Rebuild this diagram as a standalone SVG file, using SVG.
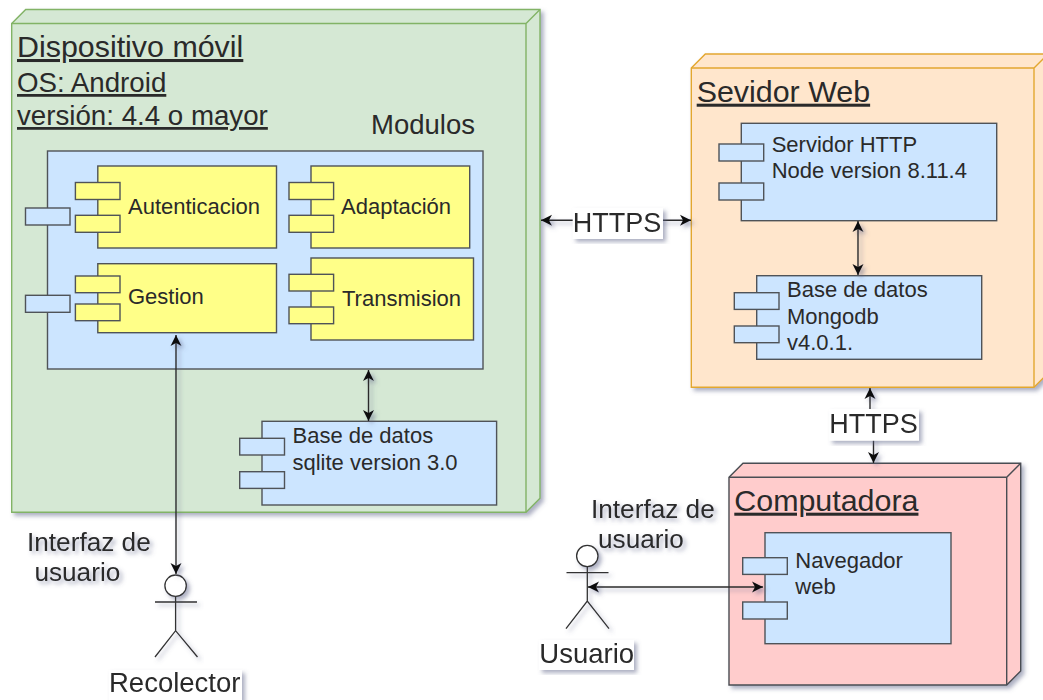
<svg xmlns="http://www.w3.org/2000/svg" width="1043" height="700" viewBox="0 0 1043 700">
<style>
text{font-family:"Liberation Sans",Arial,sans-serif;fill:#2a2a2a;font-size:22px}
.t{font-size:27.5px}
.title{font-size:30.4px;text-decoration:underline}
.u{font-size:27.7px;text-decoration:underline}
.l{font-size:26.2px}
.s{filter:url(#sh)}
.n path,.n rect,.n line,.n circle{stroke-width:1.4}
.green *{fill:#d5e8d4;stroke:#82b366}
.orange *{fill:#ffe6cc;stroke:#e3a72f}
.pink *{fill:#ffcccc;stroke:#4a4d52}
.c rect{fill:#cce5ff;stroke:#4f5358;stroke-width:1.4}
.y rect{fill:#ffff88;stroke:#4f5358;stroke-width:1.4}
.actor *{fill:none;stroke:#333;stroke-width:1.3}
.actor circle{fill:#fff}
.bg{fill:#fff}
#connectors path{fill:none;stroke:#2a2a2a;stroke-width:1.4;marker-start:url(#a);marker-end:url(#a)}
</style>
<defs>
<filter id="sh" x="-10%" y="-10%" width="125%" height="125%"><feDropShadow dx="3" dy="3" stdDeviation="2" flood-color="#5a5f85" flood-opacity="0.5"/></filter>
<marker id="a" markerUnits="userSpaceOnUse" markerWidth="15" markerHeight="14" refX="12" refY="7" orient="auto-start-reverse"><path d="M1 1.5L12 7L1 12.5L4 7Z" fill="#111"/></marker>
</defs>

<g id="node-dispositivo" class="n green s">
<path d="M11.7 23.5L25.7 9.5H540V498.3L526 512.3H11.7Z"/>
<path d="M11.7 23.5H526L540 9.5M526 23.5V512.3" style="fill:none"/>
</g>
<g id="node-servidor" class="n orange s">
<path d="M691.3 68L705.3 54H1048V373.3L1034 387.3H691.3Z"/>
<path d="M691.3 68H1034L1048 54M1034 68V387.3" style="fill:none"/>
</g>
<g id="node-computadora" class="n pink s">
<path d="M729 477.3L743 463.3H1020.7V671L1006.7 685H729Z"/>
<path d="M729 477.3H1006.7L1020.7 463.3M1006.7 477.3V685" style="fill:none"/>
</g>

<g id="node-modulos" class="c">
<rect x="47.5" y="151" width="435.5" height="218"/>
<rect x="25.5" y="208" width="44.5" height="17"/>
<rect x="25.5" y="295.3" width="44.5" height="17"/>
</g>
<g id="node-autenticacion" class="y">
<rect x="97.8" y="166" width="178.7" height="82"/>
<rect x="75.4" y="182.5" width="44.6" height="17"/>
<rect x="75.4" y="215.3" width="44.6" height="17"/>
<text x="128" y="214">Autenticacion</text>
</g>
<g id="node-adaptacion" class="y">
<rect x="311" y="166" width="158.7" height="82"/>
<rect x="289" y="182.5" width="44.6" height="17"/>
<rect x="289" y="215.3" width="44.6" height="17"/>
<text x="341" y="214">Adaptación</text>
</g>
<g id="node-gestion" class="y">
<rect x="97.8" y="263.7" width="178.7" height="69"/>
<rect x="75.4" y="276" width="44.6" height="16.7"/>
<rect x="75.4" y="304" width="44.6" height="16.7"/>
<text x="128" y="304">Gestion</text>
</g>
<g id="node-transmision" class="y">
<rect x="311" y="258" width="162.5" height="82"/>
<rect x="289" y="274.3" width="44.6" height="16.7"/>
<rect x="289" y="307" width="44.6" height="16.7"/>
<text x="342" y="305.5">Transmision</text>
</g>
<g id="node-sqlite" class="c">
<rect x="262" y="421.3" width="234.6" height="83.7"/>
<rect x="239.7" y="438.3" width="44.8" height="16.7"/>
<rect x="239.7" y="471.7" width="44.8" height="16.7"/>
<text x="292.5" y="443">Base de datos</text>
<text x="292.5" y="469.5">sqlite version 3.0</text>
</g>
<g id="node-http" class="c">
<rect x="741.3" y="123.3" width="255.4" height="97.4"/>
<rect x="719" y="144" width="44.7" height="17"/>
<rect x="719" y="183" width="44.7" height="17"/>
<text x="771.7" y="151.7">Servidor HTTP</text>
<text x="771.7" y="178">Node version 8.11.4</text>
</g>
<g id="node-mongodb" class="c">
<rect x="756.7" y="275.7" width="225" height="83.6"/>
<rect x="734.3" y="292.7" width="44.7" height="16.7"/>
<rect x="734.3" y="326" width="44.7" height="16.7"/>
<text x="787" y="297.3">Base de datos</text>
<text x="787" y="324">Mongodb</text>
<text x="787" y="350">v4.0.1.</text>
</g>
<g id="node-navegador" class="c">
<rect x="765" y="532.7" width="186" height="111"/>
<rect x="742.7" y="557.7" width="44.6" height="16.7"/>
<rect x="742.7" y="602" width="44.6" height="17"/>
<text x="795.3" y="568">Navegador</text>
<text x="795.3" y="594">web</text>
</g>

<g id="node-recolector" class="actor s">
<circle cx="175.6" cy="585.7" r="10.7"/>
<path d="M175.6 596.4V630.7M155 602H197M155 657L175.6 630.7L197.5 657"/>
</g>
<g id="node-usuario" class="actor s">
<circle cx="587.3" cy="556" r="10.7"/>
<path d="M587.3 566.7V601M566.5 572.7H608.5M566 628.7L587.3 601L609 628.7"/>
</g>

<g id="connectors" class="s">
<path d="M176 335V574"/>
<path d="M368.5 370V421"/>
<path d="M858 221V275"/>
<path d="M541 220.3H691"/>
<path d="M870 388V425H873.5V463"/>
<path d="M588 587H763"/>
</g>

<g id="labels">
<text class="title" x="17" y="57">Dispositivo móvil</text>
<text class="u" x="17" y="92">OS: Android</text>
<text class="u" x="17" y="125">versión: 4.4 o mayor</text>
<text class="t" x="371" y="133.5">Modulos</text>
<text class="title" x="696.7" y="101.7">Sevidor Web</text>
<text class="title" x="734.3" y="510.7">Computadora</text>
<g class="s"><rect class="bg" x="572.7" y="208" width="90.3" height="31"/><text class="t" x="572.7" y="231.7" style="font-size:27px">HTTPS</text></g>
<g class="s"><rect class="bg" x="829.3" y="409" width="89.7" height="31.7"/><text class="t" x="829.3" y="432.7" style="font-size:27px">HTTPS</text></g>
<g class="s"><text class="l" x="27" y="550.7">Interfaz de</text><text class="l" x="34.4" y="581">usuario</text></g>
<g class="s"><text class="l" x="591" y="517.7">Interfaz de</text><text class="l" x="598" y="547.7">usuario</text></g>
<g class="s"><rect class="bg" x="109" y="670" width="133" height="31"/><text class="t" x="109" y="692">Recolector</text></g>
<g class="s"><rect class="bg" x="539" y="640" width="95" height="30"/><text class="t" x="539.3" y="663.3">Usuario</text></g>
</g>
</svg>
